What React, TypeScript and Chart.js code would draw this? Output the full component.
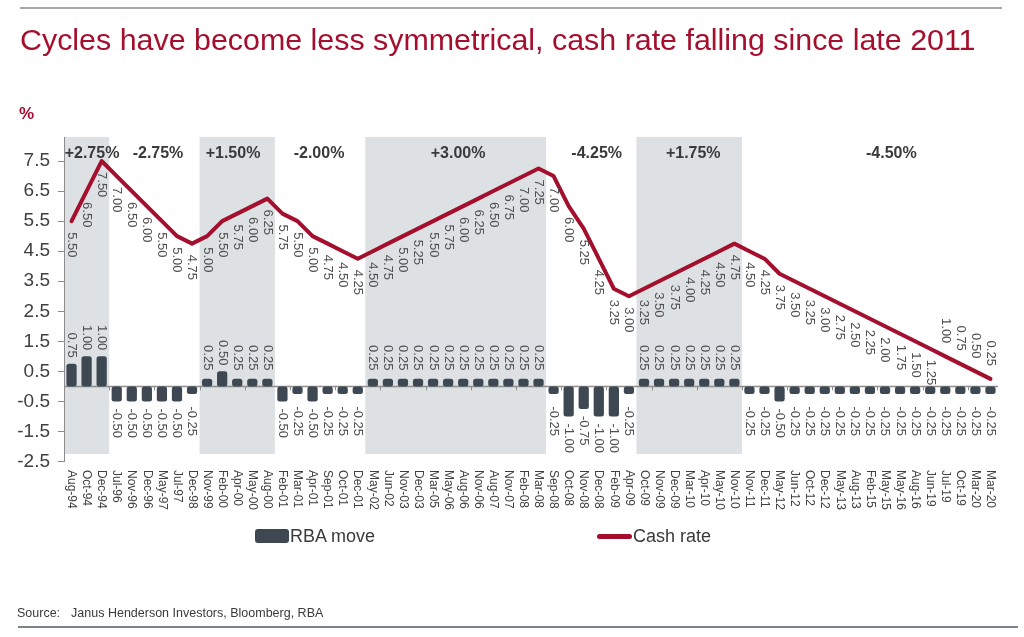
import React, { useEffect, useRef } from 'react';
import { Chart, registerables } from 'chart.js';

Chart.register(...registerables);

const FONT = "'Liberation Sans', Arial, Helvetica, sans-serif";

const categories = [
  'Aug-94', 'Oct-94', 'Dec-94', 'Jul-96', 'Nov-96', 'Dec-96', 'May-97', 'Jul-97', 'Dec-98',
  'Nov-99', 'Feb-00', 'Apr-00', 'May-00', 'Aug-00', 'Feb-01', 'Mar-01', 'Apr-01', 'Sep-01',
  'Oct-01', 'Dec-01', 'May-02', 'Jun-02', 'Nov-03', 'Dec-03', 'Mar-05', 'May-06', 'Aug-06',
  'Nov-06', 'Aug-07', 'Nov-07', 'Feb-08', 'Mar-08', 'Sep-08', 'Oct-08', 'Nov-08', 'Dec-08',
  'Feb-09', 'Apr-09', 'Oct-09', 'Nov-09', 'Dec-09', 'Mar-10', 'Apr-10', 'May-10', 'Nov-10',
  'Nov-11', 'Dec-11', 'May-12', 'Jun-12', 'Oct-12', 'Dec-12', 'May-13', 'Aug-13', 'Feb-15',
  'May-15', 'May-16', 'Aug-16', 'Jun-19', 'Jul-19', 'Oct-19', 'Mar-20', 'Mar-20',
];

const rbaMove = [
  0.75, 1.0, 1.0,
  -0.5, -0.5, -0.5, -0.5, -0.5, -0.25,
  0.25, 0.5, 0.25, 0.25, 0.25,
  -0.5, -0.25, -0.5, -0.25, -0.25, -0.25,
  0.25, 0.25, 0.25, 0.25, 0.25, 0.25, 0.25, 0.25, 0.25, 0.25, 0.25, 0.25,
  -0.25, -1.0, -0.75, -1.0, -1.0, -0.25,
  0.25, 0.25, 0.25, 0.25, 0.25, 0.25, 0.25,
  -0.25, -0.25, -0.5, -0.25, -0.25, -0.25, -0.25, -0.25, -0.25, -0.25, -0.25, -0.25,
  -0.25, -0.25, -0.25, -0.25, -0.25,
];

const cashRate = [
  5.5, 6.5, 7.5,
  7.0, 6.5, 6.0, 5.5, 5.0, 4.75,
  5.0, 5.5, 5.75, 6.0, 6.25,
  5.75, 5.5, 5.0, 4.75, 4.5, 4.25,
  4.5, 4.75, 5.0, 5.25, 5.5, 5.75, 6.0, 6.25, 6.5, 6.75, 7.0, 7.25,
  7.0, 6.0, 5.25, 4.25, 3.25, 3.0,
  3.25, 3.5, 3.75, 4.0, 4.25, 4.5, 4.75,
  4.5, 4.25, 3.75, 3.5, 3.25, 3.0, 2.75, 2.5, 2.25, 2.0, 1.75, 1.5, 1.25,
  1.0, 0.75, 0.5, 0.25,
];

const yTicks = [-2.5, -1.5, -0.5, 0.5, 1.5, 2.5, 3.5, 4.5, 5.5, 6.5, 7.5];

// easing cycles (shaded) as category index ranges
const shadedRanges = [
  [0, 2],
  [9, 13],
  [20, 31],
  [38, 44],
];

const periodLabels = ['+2.75%', '-2.75%', '+1.50%', '-2.00%', '+3.00%', '-4.25%', '+1.75%', '-4.50%'];
const periodLabelAt = [1.36, 5.74, 10.72, 16.43, 25.66, 34.86, 41.27, 54.42];

const BAR_COLOR = '#3d4852';
const LINE_COLOR = '#a30f2c';
const SHADE = '#dde1e4';
const AXIS = '#8c8c8c';

function vtext(ctx: CanvasRenderingContext2D, text: string, x: number, y: number, align: CanvasTextAlign) {
  ctx.save();
  ctx.translate(x, y);
  ctx.rotate(Math.PI / 2);
  ctx.textAlign = align;
  ctx.textBaseline = 'middle';
  ctx.fillText(text, 0, 0);
  ctx.restore();
}

const decorPlugin = {
  id: 'decor',
  beforeDatasetsDraw(chart: any) {
    const { ctx, chartArea, scales } = chart;
    const x = scales.x;
    const y = scales.y;
    const half = (x.getPixelForValue(1) - x.getPixelForValue(0)) / 2;
    ctx.save();
    ctx.fillStyle = SHADE;
    const bottom = y.getPixelForValue(-2.25);
    shadedRanges.forEach(([s, e]) => {
      const x0 = Math.max(x.getPixelForValue(s) - half, chartArea.left + 1);
      const x1 = x.getPixelForValue(e) + half;
      ctx.fillRect(x0, chartArea.top, x1 - x0, bottom - chartArea.top);
    });
    const zy = y.getPixelForValue(0);
    ctx.strokeStyle = AXIS;
    ctx.lineWidth = 1.5;
    ctx.beginPath();
    ctx.moveTo(chartArea.left, zy);
    ctx.lineTo(chartArea.right, zy);
    ctx.stroke();
    ctx.lineWidth = 1;
    ctx.beginPath();
    for (let k = 3; k <= categories.length; k += 3) {
      const bx = Math.round(x.getPixelForValue(k - 0.5)) + 0.5;
      ctx.moveTo(bx, zy);
      ctx.lineTo(bx, zy + 4);
    }
    ctx.stroke();
    ctx.restore();
  },
  afterDatasetsDraw(chart: any) {
    const { ctx, scales } = chart;
    const x = scales.x;
    const y = scales.y;
    const zy = y.getPixelForValue(0);
    const barMeta = chart.getDatasetMeta(0);
    const lineMeta = chart.getDatasetMeta(1);
    ctx.save();
    ctx.fillStyle = '#505050';
    ctx.font = `13px ${FONT}`;
    // bar labels
    rbaMove.forEach((v, i) => {
      const el = barMeta.data[i];
      const txt = v.toFixed(2);
      if (v >= 0) {
        const end = Math.min(el.y - 6, zy - 16);
        vtext(ctx, txt, el.x, end, 'right');
      } else {
        const start = Math.max(el.y + 7, zy + 20);
        vtext(ctx, txt, el.x, start, 'left');
      }
    });
    // line labels
    cashRate.forEach((v, i) => {
      const el = lineMeta.data[i];
      const txt = v.toFixed(2);
      if (v <= 1.0) {
        vtext(ctx, txt, el.x, el.y - 13, 'right');
      } else {
        vtext(ctx, txt, el.x, el.y + 11, 'left');
      }
    });
    // period labels
    ctx.fillStyle = '#3a3a3a';
    ctx.font = `bold 16px ${FONT}`;
    ctx.textAlign = 'center';
    ctx.textBaseline = 'middle';
    periodLabels.forEach((t, i) => {
      ctx.fillText(t, x.getPixelForValue(periodLabelAt[i]), 153.5);
    });
    ctx.restore();
  },
  afterDraw(chart: any) {
    const { ctx, scales, chartArea } = chart;
    const x = scales.x;
    ctx.save();
    ctx.fillStyle = '#404040';
    ctx.font = `12px ${FONT}`;
    categories.forEach((c, i) => {
      vtext(ctx, c, x.getPixelForValue(i), chartArea.bottom + 8.5, 'left');
    });
    ctx.restore();
  },
};

export default function App() {
  const canvasRef = useRef<HTMLCanvasElement | null>(null);

  useEffect(() => {
    if (!canvasRef.current) return;
    const chart = new Chart(canvasRef.current, {
      type: 'bar',
      data: {
        labels: categories,
        datasets: [
          {
            type: 'bar',
            label: 'RBA move',
            data: rbaMove,
            backgroundColor: BAR_COLOR,
            barPercentage: 0.68,
            categoryPercentage: 1.0,
            borderRadius: 2.5,
            borderSkipped: false,
            order: 1,
          },
          {
            type: 'line',
            label: 'Cash rate',
            data: cashRate,
            borderColor: LINE_COLOR,
            backgroundColor: LINE_COLOR,
            borderWidth: 4,
            pointRadius: 0,
            tension: 0,
            borderJoinStyle: 'round',
            borderCapStyle: 'round',
            order: 0,
          },
        ],
      } as any,
      options: {
        animation: false,
        responsive: true,
        maintainAspectRatio: false,
        events: [],
        layout: { padding: { left: 0, top: 137, right: 26, bottom: 175.5 } },
        plugins: {
          legend: { display: false },
          tooltip: { enabled: false },
          title: { display: false },
        },
        scales: {
          x: {
            display: false,
            offset: true,
          },
          y: {
            min: -2.5,
            max: 8.3,
            afterBuildTicks: (s: any) => {
              s.ticks = yTicks.map((v) => ({ value: v }));
            },
            afterFit: (s: any) => {
              s.width = 64;
            },
            grid: {
              display: true,
              drawOnChartArea: false,
              drawTicks: true,
              tickLength: 6,
              color: AXIS,
              lineWidth: 1,
            },
            border: { display: true, color: AXIS, width: 1 },
            ticks: {
              color: '#404040',
              font: { family: FONT, size: 19 },
              padding: 8,
              callback: (v: any) => Number(v).toFixed(1),
            },
          },
        },
      } as any,
      plugins: [decorPlugin],
    });
    return () => chart.destroy();
  }, []);

  const abs = (s: React.CSSProperties): React.CSSProperties => ({ position: 'absolute', ...s });

  return (
    <div
      style={{
        position: 'absolute',
        left: 0,
        top: 0,
        width: 1024,
        height: 637,
        overflow: 'hidden',
        background: '#ffffff',
        fontFamily: FONT,
      }}
    >
      <div style={abs({ left: 0, top: 0, width: 1024, height: 637 })}>
        <canvas ref={canvasRef} />
      </div>
      <div style={abs({ left: 20, top: 7, width: 982, height: 2, background: '#a9a9a9' })} />
      <div
        style={abs({
          left: 20,
          top: 24,
          fontSize: 30.4,
          lineHeight: '30px',
          color: '#a50f2d',
          whiteSpace: 'nowrap',
        })}
      >
        Cycles have become less symmetrical, cash rate falling since late 2011
      </div>
      <div
        style={abs({
          left: 19,
          top: 105,
          fontSize: 17,
          lineHeight: '17px',
          fontWeight: 'bold',
          color: '#a50f2d',
        })}
      >
        %
      </div>
      <div style={abs({ left: 255, top: 529, width: 34, height: 14, borderRadius: 3, background: BAR_COLOR })} />
      <div style={abs({ left: 290, top: 527, fontSize: 18, lineHeight: '18px', color: '#3a3a3a' })}>RBA move</div>
      <div style={abs({ left: 597, top: 534, width: 35, height: 5, borderRadius: 2.5, background: LINE_COLOR })} />
      <div style={abs({ left: 633, top: 527, fontSize: 18, lineHeight: '18px', color: '#3a3a3a' })}>Cash rate</div>
      <div
        style={abs({
          left: 17,
          top: 607,
          fontSize: 12.5,
          lineHeight: '12.5px',
          color: '#3a3a3a',
          whiteSpace: 'nowrap',
        })}
      >
        Source:<span style={{ marginLeft: 11 }}>Janus Henderson Investors, Bloomberg, RBA</span>
      </div>
      <div style={abs({ left: 18, top: 626, width: 1000, height: 2, background: '#7a828a' })} />
    </div>
  );
}
